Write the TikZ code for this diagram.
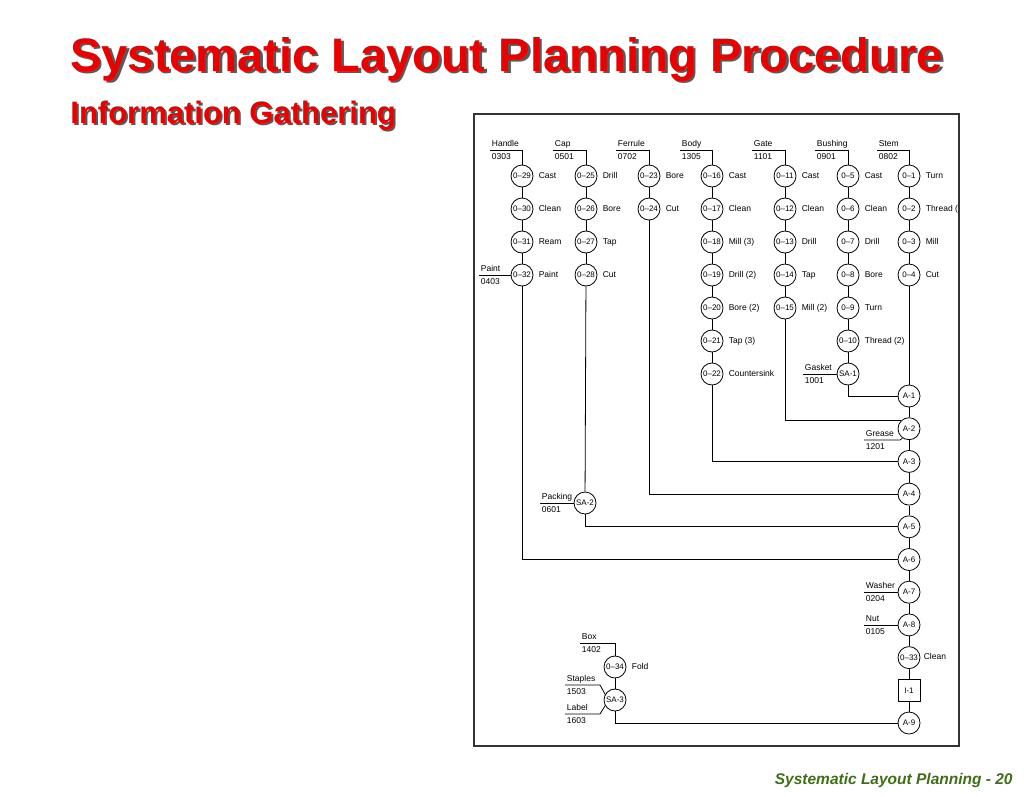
\documentclass[tikz,border=0pt]{standalone}
\usepackage{fontspec}
\setmainfont{Liberation Sans}
\usetikzlibrary{positioning}

\definecolor{titlered}{RGB}{235,0,0}
\definecolor{footgreen}{RGB}{62,110,22}

\begin{document}
\begin{tikzpicture}[x=1pt,y=-1pt, line width=0.8pt,
    roundnode/.style = {circle, draw=black, minimum size=22pt, inner sep=0pt, font=\fontsize{8}{9}\selectfont},
    squarenode/.style = {rectangle, draw=black, minimum size=22pt, inner sep=0pt, font=\fontsize{8}{9}\selectfont},
    oplabel/.style = {inner sep=0pt, text height=6.2pt, text depth=1.8pt, font=\fontsize{8.5}{10}\selectfont},
    partname/.style = {anchor=south west, inner sep=1.5pt, text height=6.5pt, text depth=2pt, font=\fontsize{8.5}{10}\selectfont},
    partno/.style = {anchor=north west, inner sep=1.5pt, text height=6.5pt, text depth=2pt, font=\fontsize{8.5}{10}\selectfont}]
    \useasboundingbox (0,0) rectangle (1024,796);

    % titles
    \node[anchor=base west, inner sep=0pt, text=black!65, font=\bfseries\fontsize{47}{50}\selectfont] (titleshadow) at (72.5,73.5) {Systematic Layout Planning Procedure};
    \node[anchor=base west, inner sep=0pt, text=titlered, font=\bfseries\fontsize{47}{50}\selectfont] (title) at (70,71) {Systematic Layout Planning Procedure};
    \node[anchor=base west, inner sep=0pt, text=black!65, font=\bfseries\fontsize{31}{34}\selectfont] (subshadow) at (72,125) {Information Gathering};
    \node[anchor=base west, inner sep=0pt, text=titlered, font=\bfseries\fontsize{31}{34}\selectfont] (subtitle) at (70,123) {Information Gathering};
    \node[anchor=base east, inner sep=0pt, text=footgreen, font=\bfseries\itshape\fontsize{15.5}{17}\selectfont] (footer) at (1013,784) {Systematic Layout Planning - 20};

    \begin{scope}
    \clip (474,114) rectangle (958,746);

    % handle
    \node[roundnode] (o29) at (522,176) {0--29};
    \node[roundnode] (o30) [below=10.2pt of o29] {0--30};
    \node[roundnode] (o31) [below=10.2pt of o30] {0--31};
    \node[roundnode] (o32) [below=10.2pt of o31] {0--32};
    \node[oplabel] (t29) [right=5pt of o29] {Cast};
    \node[oplabel] (t30) [right=5pt of o30] {Clean};
    \node[oplabel] (t31) [right=5pt of o31] {Ream};
    \node[oplabel] (t32) [right=5pt of o32] {Paint};

    % cap
    \node[roundnode] (o25) at (586,176) {0--25};
    \node[roundnode] (o26) [below=10.2pt of o25] {0--26};
    \node[roundnode] (o27) [below=10.2pt of o26] {0--27};
    \node[roundnode] (o28) [below=10.2pt of o27] {0--28};
    \node[oplabel] (t25) [right=5pt of o25] {Drill};
    \node[oplabel] (t26) [right=5pt of o26] {Bore};
    \node[oplabel] (t27) [right=5pt of o27] {Tap};
    \node[oplabel] (t28) [right=5pt of o28] {Cut};

    % ferrule
    \node[roundnode] (o23) at (649,176) {0--23};
    \node[roundnode] (o24) [below=10.2pt of o23] {0--24};
    \node[oplabel] (t23) [right=5pt of o23] {Bore};
    \node[oplabel] (t24) [right=5pt of o24] {Cut};

    % body
    \node[roundnode] (o16) at (712,176) {0--16};
    \node[roundnode] (o17) [below=10.2pt of o16] {0--17};
    \node[roundnode] (o18) [below=10.2pt of o17] {0--18};
    \node[roundnode] (o19) [below=10.2pt of o18] {0--19};
    \node[roundnode] (o20) [below=10.2pt of o19] {0--20};
    \node[roundnode] (o21) [below=10.2pt of o20] {0--21};
    \node[roundnode] (o22) [below=10.2pt of o21] {0--22};
    \node[oplabel] (t16) [right=5pt of o16] {Cast};
    \node[oplabel] (t17) [right=5pt of o17] {Clean};
    \node[oplabel] (t18) [right=5pt of o18] {Mill (3)};
    \node[oplabel] (t19) [right=5pt of o19] {Drill (2)};
    \node[oplabel] (t20) [right=5pt of o20] {Bore (2)};
    \node[oplabel] (t21) [right=5pt of o21] {Tap (3)};
    \node[oplabel] (t22) [right=5pt of o22] {Countersink};

    % gate
    \node[roundnode] (o11) at (785,176) {0--11};
    \node[roundnode] (o12) [below=10.2pt of o11] {0--12};
    \node[roundnode] (o13) [below=10.2pt of o12] {0--13};
    \node[roundnode] (o14) [below=10.2pt of o13] {0--14};
    \node[roundnode] (o15) [below=10.2pt of o14] {0--15};
    \node[oplabel] (t11) [right=5pt of o11] {Cast};
    \node[oplabel] (t12) [right=5pt of o12] {Clean};
    \node[oplabel] (t13) [right=5pt of o13] {Drill};
    \node[oplabel] (t14) [right=5pt of o14] {Tap};
    \node[oplabel] (t15) [right=5pt of o15] {Mill (2)};

    % bushing
    \node[roundnode] (o5) at (848,176) {0--5};
    \node[roundnode] (o6) [below=10.2pt of o5] {0--6};
    \node[roundnode] (o7) [below=10.2pt of o6] {0--7};
    \node[roundnode] (o8) [below=10.2pt of o7] {0--8};
    \node[roundnode] (o9) [below=10.2pt of o8] {0--9};
    \node[roundnode] (o10) [below=10.2pt of o9] {0--10};
    \node[roundnode] (sa1) [below=10.2pt of o10] {SA-1};
    \node[oplabel] (t5) [right=5pt of o5] {Cast};
    \node[oplabel] (t6) [right=5pt of o6] {Clean};
    \node[oplabel] (t7) [right=5pt of o7] {Drill};
    \node[oplabel] (t8) [right=5pt of o8] {Bore};
    \node[oplabel] (t9) [right=5pt of o9] {Turn};
    \node[oplabel] (t10) [right=5pt of o10] {Thread (2)};

    % stem
    \node[roundnode] (o1) at (909,176) {0--1};
    \node[roundnode] (o2) [below=10.2pt of o1] {0--2};
    \node[roundnode] (o3) [below=10.2pt of o2] {0--3};
    \node[roundnode] (o4) [below=10.2pt of o3] {0--4};
    \node[oplabel] (t1) [right=5pt of o1] {Turn};
    \node[oplabel] (t2) [right=5pt of o2] {Thread (2)};
    \node[oplabel] (t3) [right=5pt of o3] {Mill};
    \node[oplabel] (t4) [right=5pt of o4] {Cut};

    % assembly line
    \node[roundnode] (a1) at (909,396) {A-1};
    \node[roundnode] (a2) [below=9.9pt of a1] {A-2};
    \node[roundnode] (a3) [below=9.9pt of a2] {A-3};
    \node[roundnode] (a4) [below=9.9pt of a3] {A-4};
    \node[roundnode] (a5) [below=9.9pt of a4] {A-5};
    \node[roundnode] (a6) [below=9.9pt of a5] {A-6};
    \node[roundnode] (a7) [below=9.9pt of a6] {A-7};
    \node[roundnode] (a8) [below=9.9pt of a7] {A-8};
    \node[roundnode] (o33) [below=9.9pt of a8] {0--33};
    \node[squarenode] (i1) [below=9.9pt of o33] {I-1};
    \node[roundnode] (a9) [below=9.9pt of i1] {A-9};
    \node[oplabel] (t33) [right=3pt of o33] {Clean};

    % sub-assemblies
    \node[roundnode] (sa2) at (585,503) {SA-2};
    \node[roundnode] (o34) at (615,667) {0--34};
    \node[roundnode] (sa3) [below=10.2pt of o34] {SA-3};
    \node[oplabel] (t34) [right=5pt of o34] {Fold};

    % parts
    \node[partname] (handle) at (490,150) {Handle};
    \node[partno] (handleno) [below=1pt of handle.south west, anchor=north west] {0303};
    \node[partname] (cap) at (553,150) {Cap};
    \node[partno] (capno) [below=1pt of cap.south west, anchor=north west] {0501};
    \node[partname] (ferrule) at (616,150) {Ferrule};
    \node[partno] (ferruleno) [below=1pt of ferrule.south west, anchor=north west] {0702};
    \node[partname] (body) at (680,150) {Body};
    \node[partno] (bodyno) [below=1pt of body.south west, anchor=north west] {1305};
    \node[partname] (gate) at (752,150) {Gate};
    \node[partno] (gateno) [below=1pt of gate.south west, anchor=north west] {1101};
    \node[partname] (bushing) at (815,150) {Bushing};
    \node[partno] (bushingno) [below=1pt of bushing.south west, anchor=north west] {0901};
    \node[partname] (stem) at (877,150) {Stem};
    \node[partno] (stemno) [below=1pt of stem.south west, anchor=north west] {0802};
    \node[partname] (paint) at (479,275) {Paint};
    \node[partno] (paintno) [below=1pt of paint.south west, anchor=north west] {0403};
    \node[partname] (gasket) at (803,374) {Gasket};
    \node[partno] (gasketno) [below=1pt of gasket.south west, anchor=north west] {1001};
    \node[partname] (grease) at (864,440) {Grease};
    \node[partno] (greaseno) [below=1pt of grease.south west, anchor=north west] {1201};
    \node[partname] (packing) at (540,503) {Packing};
    \node[partno] (packingno) [below=1pt of packing.south west, anchor=north west] {0601};
    \node[partname] (washer) at (864,592) {Washer};
    \node[partno] (washerno) [below=1pt of washer.south west, anchor=north west] {0204};
    \node[partname] (nut) at (864,625) {Nut};
    \node[partno] (nutno) [below=1pt of nut.south west, anchor=north west] {0105};
    \node[partname] (box) at (580,643) {Box};
    \node[partno] (boxno) [below=1pt of box.south west, anchor=north west] {1402};
    \node[partname] (staples) at (565,685) {Staples};
    \node[partno] (staplesno) [below=1pt of staples.south west, anchor=north west] {1503};
    \node[partname] (label) at (565,714) {Label};
    \node[partno] (labelno) [below=1pt of label.south west, anchor=north west] {1603};
    \coordinate (greasebend) at (900,440);
    \coordinate (staplesbend) at (600,685);
    \coordinate (labelbend) at (600,714);

    % part feeds
    \draw (handle.south west) -| (o29);
    \draw (cap.south west) -| (o25);
    \draw (ferrule.south west) -| (o23);
    \draw (body.south west) -| (o16);
    \draw (gate.south west) -| (o11);
    \draw (bushing.south west) -| (o5);
    \draw (stem.south west) -| (o1);
    \draw (paint.south west) -- (paint.south west -| o32.west);
    \draw (gasket.south west) -- (gasket.south west -| sa1.west);
    \draw (grease.south west) -- (greasebend) -- (a2.235);
    \draw (packing.south west) -- (packing.south west -| sa2.west);
    \draw (washer.south west) -- (washer.south west -| a7.west);
    \draw (nut.south west) -- (nut.south west -| a8.west);
    \draw (box.south west) -| (o34);
    \draw (staples.south west) -- (staplesbend) -- (sa3.150);
    \draw (label.south west) -- (labelbend) -- (sa3.210);

    % operation chains
    \draw (o29)--(o30); \draw (o30)--(o31); \draw (o31)--(o32);
    \draw (o25)--(o26); \draw (o26)--(o27); \draw (o27)--(o28);
    \draw (o23)--(o24);
    \draw (o16)--(o17); \draw (o17)--(o18); \draw (o18)--(o19);
    \draw (o19)--(o20); \draw (o20)--(o21); \draw (o21)--(o22);
    \draw (o11)--(o12); \draw (o12)--(o13); \draw (o13)--(o14); \draw (o14)--(o15);
    \draw (o5)--(o6); \draw (o6)--(o7); \draw (o7)--(o8);
    \draw (o8)--(o9); \draw (o9)--(o10); \draw (o10)--(sa1);
    \draw (o1)--(o2); \draw (o2)--(o3); \draw (o3)--(o4);
    \draw (o28)--(sa2);
    \draw (o34)--(sa3);

    % into assembly
    \draw (o4)--(a1);
    \draw (sa1) |- (a1);
    \draw (o15) |- (a2.135);
    \draw (o22) |- (a3);
    \draw (o24) |- (a4);
    \draw (sa2) |- (a5);
    \draw (o32) |- (a6);
    \draw (sa3) |- (a9);
    \draw (a1)--(a2); \draw (a2)--(a3); \draw (a3)--(a4); \draw (a4)--(a5);
    \draw (a5)--(a6); \draw (a6)--(a7); \draw (a7)--(a8); \draw (a8)--(o33);
    \draw (o33)--(i1); \draw (i1)--(a9);
    \end{scope}

    % frame
    \draw[line width=1.1pt, black!80] (474,114) rectangle (959,746);
\end{tikzpicture}
\end{document}
